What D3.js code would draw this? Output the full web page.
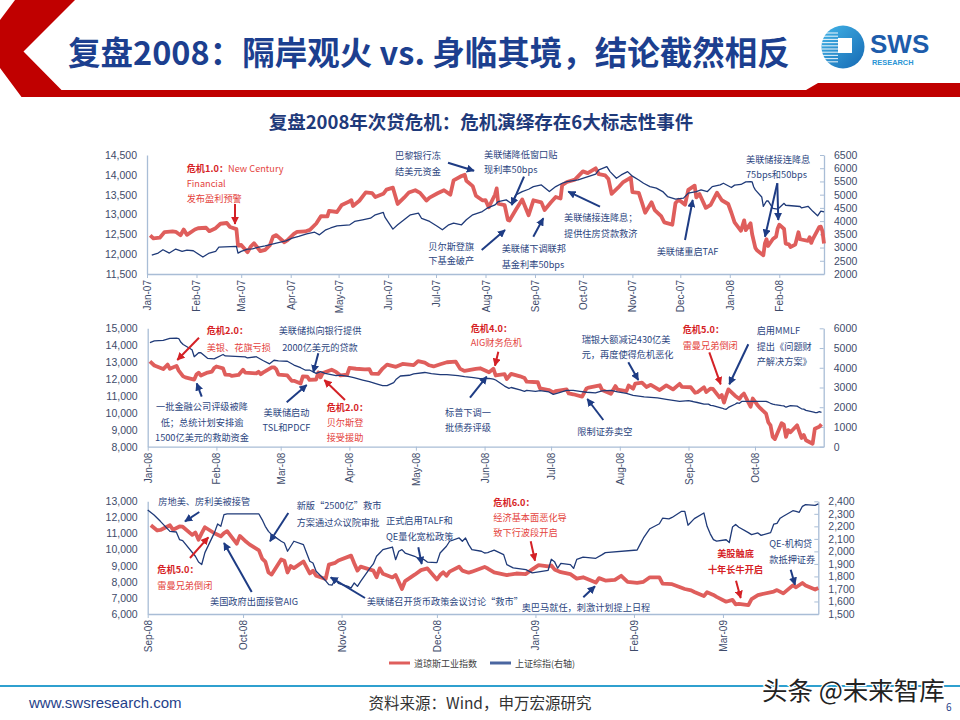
<!DOCTYPE html>
<html>
<head>
<meta charset="utf-8">
<script src="https://cdn.jsdelivr.net/npm/d3@7"></script>
<style>
  body { margin: 0; background: #fff; }
  svg { display: block; font-family: "Noto Sans CJK SC", "Noto Sans", sans-serif; }
</style>
</head>
<body>
<div id="chart"></div>
<script>
// ---- data ----
const dow07 = [["2007-01-03",12474],["2007-01-05",12398],["2007-01-09",12416],["2007-01-12",12556],["2007-01-17",12577],["2007-01-19",12565],["2007-01-22",12477],["2007-01-24",12621],["2007-01-26",12487],["2007-01-31",12622],["2007-02-02",12653],["2007-02-07",12666],["2007-02-09",12580],["2007-02-13",12654],["2007-02-16",12767],["2007-02-20",12786],["2007-02-22",12686],["2007-02-26",12632],["2007-02-27",12216],["2007-03-01",12234],["2007-03-05",12050],["2007-03-07",12192],["2007-03-09",12276],["2007-03-13",12075],["2007-03-16",12110],["2007-03-19",12226],["2007-03-21",12447],["2007-03-23",12481],["2007-03-28",12300],["2007-03-30",12354],["2007-04-03",12510],["2007-04-05",12560],["2007-04-10",12573],["2007-04-13",12612],["2007-04-17",12773],["2007-04-20",12961],["2007-04-24",12953],["2007-04-25",13089],["2007-04-30",13063],["2007-05-03",13241],["2007-05-07",13313],["2007-05-09",13362],["2007-05-10",13215],["2007-05-14",13347],["2007-05-18",13556],["2007-05-22",13539],["2007-05-24",13441],["2007-05-29",13521],["2007-05-31",13628],["2007-06-04",13676],["2007-06-07",13266],["2007-06-11",13424],["2007-06-14",13553],["2007-06-18",13612],["2007-06-21",13545],["2007-06-25",13352],["2007-06-27",13427],["2007-07-02",13535],["2007-07-06",13612],["2007-07-10",13501],["2007-07-12",13861],["2007-07-17",13971],["2007-07-19",14000],["2007-07-20",13851],["2007-07-24",13716],["2007-07-26",13473],["2007-07-30",13358],["2007-08-01",13362],["2007-08-03",13182],["2007-08-07",13504],["2007-08-08",13658],["2007-08-09",13271],["2007-08-13",13236],["2007-08-15",12862],["2007-08-16",12846],["2007-08-20",13121],["2007-08-24",13379],["2007-08-28",12983],["2007-08-31",13358],["2007-09-05",13306],["2007-09-07",13113],["2007-09-11",13309],["2007-09-14",13442],["2007-09-17",13403],["2007-09-18",13739],["2007-09-21",13820],["2007-09-26",13878],["2007-10-01",14087],["2007-10-04",14044],["2007-10-09",14165],["2007-10-11",14015],["2007-10-15",13985],["2007-10-17",13892],["2007-10-19",13522],["2007-10-23",13676],["2007-10-26",13807],["2007-10-31",13930],["2007-11-01",13567],["2007-11-05",13543],["2007-11-07",13300],["2007-11-09",13043],["2007-11-13",13307],["2007-11-15",13110],["2007-11-19",12958],["2007-11-21",12800],["2007-11-26",12743],["2007-11-28",13289],["2007-11-30",13372],["2007-12-04",13249],["2007-12-06",13620],["2007-12-10",13727],["2007-12-11",13432],["2007-12-13",13518],["2007-12-17",13167],["2007-12-20",13245],["2007-12-24",13550],["2007-12-27",13359],["2007-12-31",13265]];

const dow08 = [["2008-01-02",13044],["2008-01-04",12800],["2008-01-08",12589],["2008-01-10",12853],["2008-01-11",12606],["2008-01-14",12778],["2008-01-15",12501],["2008-01-17",12159],["2008-01-18",12099],["2008-01-22",11971],["2008-01-23",12270],["2008-01-24",12378],["2008-01-25",12207],["2008-01-28",12383],["2008-01-30",12442],["2008-01-31",12650],["2008-02-01",12743],["2008-02-04",12635],["2008-02-05",12265],["2008-02-07",12248],["2008-02-08",12182],["2008-02-11",12240],["2008-02-13",12552],["2008-02-14",12376],["2008-02-19",12337],["2008-02-20",12427],["2008-02-21",12284],["2008-02-22",12381],["2008-02-26",12684],["2008-02-27",12694],["2008-02-28",12582],["2008-02-29",12266],["2008-03-04",12213],["2008-03-06",11893],["2008-03-07",11894],["2008-03-10",11740],["2008-03-11",12156],["2008-03-13",12145],["2008-03-14",11951],["2008-03-17",11972],["2008-03-18",12392],["2008-03-19",12099],["2008-03-20",12361],["2008-03-24",12548],["2008-03-26",12422],["2008-03-28",12216],["2008-03-31",12263],["2008-04-01",12654],["2008-04-04",12609],["2008-04-08",12577],["2008-04-10",12581],["2008-04-11",12325],["2008-04-14",12302],["2008-04-16",12619],["2008-04-18",12849],["2008-04-22",12720],["2008-04-25",12891],["2008-04-30",12820],["2008-05-02",13058],["2008-05-05",12969],["2008-05-07",12814],["2008-05-09",12745],["2008-05-12",12876],["2008-05-15",12992],["2008-05-19",13028],["2008-05-21",12601],["2008-05-23",12479],["2008-05-28",12594],["2008-05-30",12638],["2008-06-03",12402],["2008-06-05",12604],["2008-06-06",12210],["2008-06-10",12289],["2008-06-11",11999],["2008-06-13",12307],["2008-06-17",12160],["2008-06-19",12063],["2008-06-20",11843],["2008-06-25",11811],["2008-06-26",11453],["2008-06-30",11350],["2008-07-02",11215],["2008-07-03",11288],["2008-07-08",11384],["2008-07-09",11147],["2008-07-11",11100],["2008-07-15",10962],["2008-07-17",11446],["2008-07-18",11496],["2008-07-23",11632],["2008-07-24",11349],["2008-07-28",11131],["2008-07-30",11583],["2008-07-31",11378],["2008-08-04",11284],["2008-08-05",11615],["2008-08-07",11432],["2008-08-08",11734],["2008-08-11",11782],["2008-08-13",11532],["2008-08-15",11659],["2008-08-19",11348],["2008-08-22",11628],["2008-08-25",11386],["2008-08-28",11715],["2008-08-29",11543],["2008-09-02",11516],["2008-09-04",11188],["2008-09-05",11220],["2008-09-08",11511],["2008-09-09",11231],["2008-09-11",11434],["2008-09-12",11421],["2008-09-15",10917],["2008-09-16",11059],["2008-09-17",10609],["2008-09-18",11020],["2008-09-19",11388],["2008-09-22",11016],["2008-09-24",10825],["2008-09-25",11023],["2008-09-26",11143],["2008-09-29",10365],["2008-09-30",10851],["2008-10-02",10482],["2008-10-03",10325],["2008-10-06",9955],["2008-10-07",9447],["2008-10-08",9258],["2008-10-09",8579],["2008-10-10",8451],["2008-10-13",9387],["2008-10-14",9310],["2008-10-15",8577],["2008-10-16",8979],["2008-10-17",8852],["2008-10-20",9265],["2008-10-22",8519],["2008-10-23",8691],["2008-10-24",8378],["2008-10-27",8175],["2008-10-28",9065],["2008-10-30",9180],["2008-10-31",9325],["2008-11-04",9625],["2008-11-05",9139],["2008-11-06",8695],["2008-11-07",8943],["2008-11-11",8693],["2008-11-12",8283],["2008-11-13",8835],["2008-11-14",8497],["2008-11-17",8273],["2008-11-18",8424],["2008-11-19",7997],["2008-11-20",7552],["2008-11-21",8046],["2008-11-24",8443],["2008-11-26",8727],["2008-11-28",8829],["2008-12-01",8149],["2008-12-02",8419],["2008-12-03",8591],["2008-12-04",8376],["2008-12-05",8635],["2008-12-08",8934],["2008-12-09",8691],["2008-12-11",8565],["2008-12-12",8629],["2008-12-16",8924],["2008-12-17",8824],["2008-12-19",8579],["2008-12-23",8419],["2008-12-26",8515],["2008-12-29",8483],["2008-12-31",8776]];

const dow09 = [["2009-01-02",9034],["2009-01-05",8952],["2009-01-06",9015],["2009-01-07",8769],["2009-01-09",8599],["2009-01-12",8474],["2009-01-14",8200],["2009-01-16",8281],["2009-01-20",7949],["2009-01-21",8228],["2009-01-23",8077],["2009-01-26",8117],["2009-01-28",8375],["2009-01-30",8001],["2009-02-02",7936],["2009-02-04",8000],["2009-02-06",8280],["2009-02-09",8270],["2009-02-10",7888],["2009-02-13",7850],["2009-02-17",7553],["2009-02-19",7466],["2009-02-20",7366],["2009-02-23",7115],["2009-02-24",7351],["2009-02-26",7183],["2009-02-27",7063],["2009-03-02",6763],["2009-03-04",6876],["2009-03-05",6594],["2009-03-06",6627],["2009-03-09",6547],["2009-03-10",6926],["2009-03-12",7170],["2009-03-13",7224],["2009-03-17",7395],["2009-03-18",7486],["2009-03-20",7279],["2009-03-23",7776],["2009-03-24",7660],["2009-03-26",7924],["2009-03-27",7776],["2009-03-30",7522],["2009-03-31",7609]];

const sh07 = [["2007-01-04",2715],["2007-01-08",2792],["2007-01-11",2918],["2007-01-15",2792],["2007-01-19",2943],["2007-01-23",2855],["2007-01-26",2900],["2007-01-30",2880],["2007-02-05",2641],["2007-02-07",2720],["2007-02-09",2792],["2007-02-13",2855],["2007-02-15",3018],["2007-02-26",3043],["2007-02-27",2792],["2007-03-01",2855],["2007-03-05",2943],["2007-03-08",2950],["2007-03-12",3018],["2007-03-16",3060],["2007-03-23",3169],["2007-03-29",3250],["2007-04-02",3358],["2007-04-06",3420],["2007-04-11",3521],["2007-04-16",3580],["2007-04-19",3480],["2007-04-23",3672],["2007-04-26",3740],["2007-04-30",3823],["2007-05-08",3861],["2007-05-11",3986],["2007-05-16",4049],["2007-05-21",4110],["2007-05-24",4238],["2007-05-29",4326],["2007-05-30",4150],["2007-06-04",3697],["2007-06-07",3860],["2007-06-11",4049],["2007-06-15",4238],["2007-06-20",4301],["2007-06-22",4100],["2007-06-27",3986],["2007-07-02",3798],["2007-07-05",3672],["2007-07-09",3860],["2007-07-12",3923],["2007-07-17",3860],["2007-07-20",4049],["2007-07-24",4238],["2007-07-30",4363],["2007-08-02",4489],["2007-08-07",4615],["2007-08-09",4740],["2007-08-14",4803],["2007-08-17",4677],["2007-08-20",4991],["2007-08-24",5117],["2007-08-28",5205],["2007-08-31",5306],["2007-09-05",5369],["2007-09-10",5117],["2007-09-14",5306],["2007-09-18",5432],["2007-09-21",5494],["2007-09-28",5557],["2007-10-09",5780],["2007-10-11",5934],["2007-10-16",6060],["2007-10-18",5872],["2007-10-22",5620],["2007-10-25",5746],["2007-10-29",5872],["2007-11-01",5700],["2007-11-05",5557],["2007-11-08",5432],["2007-11-12",5306],["2007-11-16",5250],["2007-11-20",5117],["2007-11-23",4929],["2007-11-28",4828],["2007-12-03",4870],["2007-12-06",5055],["2007-12-11",5117],["2007-12-14",5180],["2007-12-18",5117],["2007-12-21",5306],["2007-12-26",5369],["2007-12-28",5432]];

const sh08 = [["2008-01-02",5272],["2008-01-04",5361],["2008-01-08",5386],["2008-01-11",5485],["2008-01-14",5497],["2008-01-15",5481],["2008-01-16",5290],["2008-01-17",5180],["2008-01-21",4914],["2008-01-22",4559],["2008-01-24",4761],["2008-01-25",4762],["2008-01-28",4480],["2008-01-31",4450],["2008-02-04",4672],["2008-02-05",4599],["2008-02-14",4552],["2008-02-15",4497],["2008-02-19",4560],["2008-02-22",4370],["2008-02-25",4200],["2008-02-27",4380],["2008-02-29",4348],["2008-03-04",4330],["2008-03-07",4139],["2008-03-10",4003],["2008-03-12",3885],["2008-03-14",3885],["2008-03-17",3716],["2008-03-19",3801],["2008-03-21",3716],["2008-03-26",3598],["2008-03-28",3632],["2008-04-01",3547],["2008-04-03",3497],["2008-04-07",3378],["2008-04-10",3294],["2008-04-14",3159],["2008-04-16",3091],["2008-04-18",3094],["2008-04-21",3250],["2008-04-22",3400],["2008-04-24",3583],["2008-04-28",3620],["2008-04-30",3693],["2008-05-05",3761],["2008-05-08",3700],["2008-05-12",3650],["2008-05-15",3654],["2008-05-20",3598],["2008-05-23",3547],["2008-05-27",3497],["2008-05-30",3450],["2008-06-03",3463],["2008-06-05",3429],["2008-06-06",3380],["2008-06-10",3072],["2008-06-12",2957],["2008-06-13",3000],["2008-06-17",2874],["2008-06-19",2800],["2008-06-20",2857],["2008-06-24",2807],["2008-06-26",2840],["2008-06-30",2773],["2008-07-02",2655],["2008-07-04",2720],["2008-07-08",2857],["2008-07-11",2850],["2008-07-14",2807],["2008-07-17",2760],["2008-07-21",2723],["2008-07-24",2830],["2008-07-28",2857],["2008-07-31",2773],["2008-08-04",2700],["2008-08-07",2605],["2008-08-12",2521],["2008-08-18",2470],["2008-08-22",2403],["2008-08-28",2302],["2008-09-01",2330],["2008-09-03",2290],["2008-09-05",2240],["2008-09-08",2160],["2008-09-10",2155],["2008-09-11",2094],["2008-09-12",2086],["2008-09-16",1961],["2008-09-17",1915],["2008-09-18",1895],["2008-09-19",1990],["2008-09-22",2150],["2008-09-23",2219],["2008-09-24",2200],["2008-09-25",2294],["2008-09-26",2299],["2008-10-06",2299],["2008-10-07",2254],["2008-10-08",2200],["2008-10-09",2160],["2008-10-10",2134],["2008-10-13",2081],["2008-10-14",2067],["2008-10-15",2001],["2008-10-16",2041],["2008-10-17",2081],["2008-10-20",2054],["2008-10-21",1987],["2008-10-22",1921],["2008-10-23",1907],["2008-10-24",1841],["2008-10-27",1765],["2008-10-28",1734],["2008-10-29",1731],["2008-10-30",1774],["2008-10-31",1745],["2008-11-03",1721],["2008-11-04",1708],["2008-11-05",1748],["2008-11-06",1721],["2008-11-07",1760],["2008-11-10",1868],["2008-11-11",1900],["2008-11-12",1961],["2008-11-13",1987],["2008-11-14",2014],["2008-11-17",2035],["2008-11-18",1934],["2008-11-19",2001],["2008-11-20",2014],["2008-11-21",1987],["2008-11-24",1961],["2008-11-25",1947],["2008-11-27",1934],["2008-11-28",1915],["2008-12-01",1910],["2008-12-02",1987],["2008-12-04",2041],["2008-12-05",2081],["2008-12-08",2107],["2008-12-09",2081],["2008-12-10",2107],["2008-12-11",2054],["2008-12-12",2014],["2008-12-15",2001],["2008-12-16",1987],["2008-12-17",1990],["2008-12-18",2001],["2008-12-19",2010],["2008-12-22",1974],["2008-12-23",1894],["2008-12-25",1868],["2008-12-29",1854],["2008-12-31",1828]];

const sh09 = [["2009-01-05",1849],["2009-01-06",1937],["2009-01-07",1918],["2009-01-08",1866],["2009-01-09",1904],["2009-01-12",1895],["2009-01-13",1864],["2009-01-14",1936],["2009-01-16",1954],["2009-01-20",1945],["2009-01-22",1974],["2009-01-23",1990],["2009-02-02",2011],["2009-02-03",2060],["2009-02-04",2107],["2009-02-06",2181],["2009-02-09",2221],["2009-02-10",2265],["2009-02-12",2260],["2009-02-13",2271],["2009-02-16",2320],["2009-02-17",2319],["2009-02-18",2209],["2009-02-20",2262],["2009-02-23",2307],["2009-02-24",2200],["2009-02-25",2140],["2009-02-26",2094],["2009-02-27",2082],["2009-03-02",2093],["2009-03-03",2071],["2009-03-04",2194],["2009-03-05",2215],["2009-03-06",2193],["2009-03-09",2150],["2009-03-10",2134],["2009-03-12",2147],["2009-03-13",2128],["2009-03-16",2150],["2009-03-17",2218],["2009-03-18",2224],["2009-03-19",2265],["2009-03-20",2281],["2009-03-23",2325],["2009-03-24",2320],["2009-03-25",2312],["2009-03-26",2360],["2009-03-27",2374],["2009-03-30",2368],["2009-03-31",2380]];

const seriesNames = ["道琼斯工业指数", "上证综指(右轴)"];

// ---- setup ----
const RED = "#df5e5c", NAVY = "#1f3a78", AXIS = "#a9bdd6", TICK = "#3e4b6a";
const NOTE_B = "#2b4580", NOTE_R = "#e4433d", NOTE_RB = "#d61f26";

const svg = d3.select("#chart").append("svg").attr("width", 960).attr("height", 720);
const parse = d3.timeParse("%Y-%m-%d");
const toPts = arr => arr.map(([d, v]) => ({date: parse(d), v}));
const dow = toPts([...dow07, ...dow08, ...dow09]);
const sh = toPts([...sh07, ...sh08, ...sh09]);

const defs = svg.append("defs");
[["b", "#1e3c84"], ["r", "#d42126"]].forEach(([k, c]) => {
  defs.append("marker").attr("id", "ah-" + k)
    .attr("viewBox", "0 0 10 10").attr("refX", 9).attr("refY", 5)
    .attr("markerWidth", 8).attr("markerHeight", 8).attr("markerUnits", "userSpaceOnUse")
    .attr("orient", "auto")
    .append("path").attr("d", "M0,0 L10,5 L0,10 z").attr("fill", c);
});
const grad = defs.append("linearGradient").attr("id", "logoGrad").attr("x1", 0).attr("y1", 0).attr("x2", 1).attr("y2", 1);
grad.append("stop").attr("offset", "0%").attr("stop-color", "#43b5e8");
grad.append("stop").attr("offset", "100%").attr("stop-color", "#1669b3");

// ---- header ----
svg.append("polygon")
  .attr("points", [[15,0],[75,0],[23.5,51.5],[61.5,90],[806,90],[818,83],[960,83],[960,97],[21.5,97],[0,68],[0,20]].join(" "))
  .attr("fill", "#c00000");
svg.append("text").attr("x", 68).attr("y", 65)
  .attr("font-size", 32.5).attr("font-weight", 700).attr("fill", "#1c3f8f")
  .text("复盘2008：隔岸观火 vs. 身临其境，结论截然相反");

const logo = svg.append("g");
logo.append("circle").attr("cx", 843).attr("cy", 47).attr("r", 21.5).attr("fill", "url(#logoGrad)");
d3.range(33, 62, 3.2).forEach(y => {
  logo.append("line").attr("x1", 822).attr("x2", 838).attr("y1", y).attr("y2", y)
    .attr("stroke", "#fff").attr("stroke-width", 1.1).attr("opacity", 0.85);
});
logo.append("rect").attr("x", 838).attr("y", 38).attr("width", 14).attr("height", 15).attr("fill", "#fff");
logo.append("text").attr("x", 870).attr("y", 53).attr("font-family", "Liberation Sans, Arial, sans-serif")
  .attr("font-size", 26).attr("font-weight", 700).attr("fill", "#1d5cab").text("SWS");
logo.append("text").attr("x", 872).attr("y", 65).attr("font-family", "Liberation Sans, Arial, sans-serif")
  .attr("font-size", 7.4).attr("font-weight", 700).attr("fill", "#2a95d5").text("RESEARCH");

svg.append("text").attr("x", 481).attr("y", 121).attr("dominant-baseline", "central")
  .attr("text-anchor", "middle").attr("font-size", 18.5).attr("font-weight", 700).attr("fill", "#1f3a7a")
  .text("复盘2008年次贷危机：危机演绎存在6大标志性事件");

// ---- panels ----
const panels = [
  {from: "2007-01-01", to: "2008-02-29", x0: 147, x1: 824, top: 155, bottom: 274,
   left: [11500, 14500], leftStep: 500, right: [2000, 6500], rightStep: 500, rightFmt: "d"},
  {from: "2008-01-01", to: "2008-11-01", x0: 147.7, x1: 823.7, top: 328.3, bottom: 446.7,
   left: [8000, 15000], leftStep: 1000, right: [0, 6000], rightStep: 1000, rightFmt: "d"},
  {from: "2008-09-01", to: "2009-03-31", x0: 147.7, x1: 818.3, top: 501.3, bottom: 614,
   left: [6000, 13000], leftStep: 1000, right: [1500, 2400], rightStep: 100, rightFmt: ","}
];

function styleAxis(g) {
  g.select(".domain").attr("stroke", AXIS).attr("stroke-width", 1.3);
  g.selectAll(".tick line").attr("stroke", AXIS);
  g.selectAll(".tick text").attr("fill", TICK)
    .attr("font-family", "Liberation Sans, Arial, sans-serif").attr("font-size", 10.5);
}

panels.forEach(p => {
  const d0 = parse(p.from), d1 = parse(p.to);
  const x = d3.scaleTime().domain([d0, d1]).range([p.x0, p.x1]);
  const yL = d3.scaleLinear().domain(p.left).range([p.bottom, p.top]);
  const yR = d3.scaleLinear().domain(p.right).range([p.bottom, p.top]);
  const g = svg.append("g");

  g.append("g").attr("transform", `translate(${p.x0},0)`)
    .call(d3.axisLeft(yL).tickValues(d3.range(p.left[0], p.left[1] + 1, p.leftStep))
      .tickFormat(d3.format(",")).tickSize(0).tickPadding(10))
    .call(styleAxis);

  g.append("g").attr("transform", `translate(${p.x1},0)`)
    .call(d3.axisRight(yR).tickValues(d3.range(p.right[0], p.right[1] + 1, p.rightStep))
      .tickFormat(d3.format(p.rightFmt)).tickSizeInner(-4).tickSizeOuter(0).tickPadding(10))
    .call(styleAxis);

  const xa = g.append("g").attr("transform", `translate(0,${p.bottom})`)
    .call(d3.axisBottom(x).tickValues(d3.timeMonth.range(d0, d1))
      .tickFormat(d3.timeFormat("%b-%y")).tickSizeInner(4).tickSizeOuter(0))
    .call(styleAxis);
  xa.selectAll(".tick text").attr("transform", "rotate(-90)")
    .attr("text-anchor", "end").attr("x", -6).attr("y", 0).attr("dy", "0.35em").attr("font-size", 10);

  const inDom = d => d.date >= d0 && d.date <= d1;
  g.append("path").datum(dow.filter(inDom))
    .attr("fill", "none").attr("stroke", RED).attr("stroke-width", 3.8).attr("stroke-linejoin", "round")
    .attr("d", d3.line().x(d => x(d.date)).y(d => yL(d.v)));
  g.append("path").datum(sh.filter(inDom))
    .attr("fill", "none").attr("stroke", NAVY).attr("stroke-width", 1.3).attr("stroke-linejoin", "round")
    .attr("d", d3.line().x(d => x(d.date)).y(d => yR(d.v)));
});

// ---- annotations ----
function note(x, ys, lines, red, anchor) {
  lines.forEach((ln, i) => {
    const t = svg.append("text").attr("x", x).attr("y", ys[i]).attr("dominant-baseline", "central")
      .attr("font-size", 9.2).attr("text-anchor", anchor || "start").attr("fill", red ? NOTE_R : NOTE_B);
    (typeof ln === "string" ? [[ln, 0]] : ln).forEach(([s, b]) => {
      const ts = t.append("tspan").text(s);
      if (b) ts.attr("font-weight", 700).attr("fill", NOTE_RB);
    });
  });
}
function arrow(x1, y1, x2, y2, red) {
  svg.append("line").attr("x1", x1).attr("y1", y1).attr("x2", x2).attr("y2", y2)
    .attr("stroke", red ? "#d42126" : "#1e3c84").attr("stroke-width", 2)
    .attr("marker-end", `url(#ah-${red ? "r" : "b"})`);
}

// panel 1
note(186.7, [167.7, 182.7, 197.7], [[["危机1.0：", 1], ["New Century", 0]], "Financial", "发布盈利预警"], true);
arrow(235, 204, 235, 224, true);
note(395, [155, 170.7], ["巴黎银行冻", "结美元资金"]);
arrow(448, 162.7, 474, 170.7);
note(484, [154, 169.3], ["美联储降低窗口贴", "现利率50bps"]);
arrow(524, 176.7, 511.7, 205);
note(428.3, [246, 259.5], ["贝尔斯登旗", "下基金破产"]);
arrow(481.7, 250, 505, 230);
note(501.7, [248.3, 264], ["美联储下调联邦", "基金利率50bps"]);
arrow(533.3, 236.7, 543.3, 218.3);
note(564, [217.3, 232.7], ["美联储接连降息；", "提供住房贷款救济"]);
arrow(600, 206.7, 568.3, 191.7);
note(656.7, [250.7], ["美联储重启TAF"]);
arrow(685, 240, 692.7, 200);
note(746, [159.3, 174.3], ["美联储接连降息", "75bps和50bps"]);
arrow(777.3, 183.3, 765, 236.7);
arrow(777.3, 183.3, 778.3, 220);

// panel 2
note(206.7, [330, 347.3], [[["危机2.0：", 1]], "美银、花旗亏损"], true);
arrow(199, 337.7, 177.3, 360, true);
note(202, [405.7, 421.5, 437.3], ["一批金融公司评级被降", "低；总统计划安排逾", "1500亿美元的救助资金"], false, "middle");
arrow(201.7, 396.7, 196.7, 383.3);
note(320, [330, 347.3], ["美联储拟向银行提供", "2000亿美元的贷款"], false, "middle");
arrow(318.3, 353.3, 313.3, 372.3);
note(286.5, [412.3, 426.7], ["美联储启动", "TSL和PDCF"], false, "middle");
arrow(286.7, 402.3, 306.7, 385);
note(326.7, [406.7, 422.3, 437.3], [[["危机2.0：", 1]], "贝尔斯登", "接受援助"], true);
arrow(345, 400, 324.3, 380, true);
note(470.7, [327.7, 342.3], [[["危机4.0：", 1]], "AIG财务危机"], true);
arrow(498.3, 351.7, 495, 365.7, true);
note(445, [411.7, 426.7], ["标普下调一", "批债券评级"]);
arrow(470, 397.7, 486.7, 376.7);
note(581.7, [339, 354.3], ["瑞银大额减记430亿美", "元，再度使得危机恶化"]);
arrow(628.3, 362.3, 638.3, 380);
note(577.3, [431], ["限制证券卖空"]);
arrow(603.3, 420, 587.3, 399);
note(682.7, [329.3, 345], [[["危机5.0：", 1]], "雷曼兄弟倒闭"], true);
arrow(709.3, 352.3, 720.7, 384.3, true);
note(756.7, [330, 346, 361], ["启用MMLF", "提出《问题财", "产解决方案》"]);
arrow(748.3, 344.3, 729.3, 384.3);

// panel 3
note(158.3, [501.3], ["房地美、房利美被接管"]);
arrow(199.3, 512, 185, 521.3);
note(157.3, [569, 585.3], [[["危机5.0：", 1]], "雷曼兄弟倒闭"], true);
arrow(190, 558, 208.3, 537.3, true);
note(210, [600.7], ["美国政府出面接管AIG"]);
arrow(251.7, 592, 224, 543);
note(296.7, [504.7, 522], ["新版“2500亿”救市", "方案通过众议院审批"]);
arrow(288.3, 513, 270, 541.3);
note(386, [520.3, 536.3], ["正式启用TALF和", "QE量化宽松政策"]);
arrow(418.3, 547.3, 421.7, 564);
note(366.7, [601.3], ["美联储召开货币政策会议讨论“救市”"]);
arrow(365, 598, 330.7, 577.3);
note(493.3, [502, 517.3, 532.3], [[["危机6.0：", 1]], "经济基本面恶化导", "致下行波段开启"], true);
arrow(530.7, 541.3, 535, 560.7, true);
note(521.7, [607], ["奥巴马就任，刺激计划提上日程"]);
arrow(583.3, 597.3, 595, 586.3);
note(735.5, [553, 569], [[["美股触底", 1]], [["十年长牛开启", 1]]], true, "middle");
arrow(736, 580.7, 740.7, 598, true);
note(769.3, [543, 559], ["QE-机构贷", "款抵押证券"]);
arrow(790.7, 569.7, 795, 584.7);

// ---- legend ----
const legend = svg.append("g").attr("font-size", 9).attr("fill", "#404040");
[[RED, 389, seriesNames[0]], ["#4a66a0", 490, seriesNames[1]]].forEach(([c, lx, label]) => {
  legend.append("line").attr("x1", lx).attr("x2", lx + 21).attr("y1", 663).attr("y2", 663)
    .attr("stroke", c).attr("stroke-width", 3);
  legend.append("text").attr("x", lx + 25).attr("y", 663).attr("dominant-baseline", "central").text(label);
});

// ---- footer ----
svg.append("line").attr("x1", 0).attr("x2", 960).attr("y1", 686).attr("y2", 686)
  .attr("stroke", "#2fa0cf").attr("stroke-width", 2);
svg.append("text").attr("x", 29).attr("y", 702).attr("dominant-baseline", "central")
  .attr("font-family", "Liberation Sans, Arial, sans-serif").attr("font-size", 15).attr("fill", "#1f3f8a")
  .text("www.swsresearch.com");
svg.append("text").attr("x", 480).attr("y", 702).attr("dominant-baseline", "central").attr("text-anchor", "middle")
  .attr("font-size", 15.5).attr("fill", "#333").text("资料来源：Wind，申万宏源研究");
svg.append("text").attr("x", 946).attr("y", 706).attr("dominant-baseline", "central")
  .attr("font-size", 10).attr("fill", "#1f3f8a").text("6");
svg.append("text").attr("x", 762).attr("y", 688).attr("dominant-baseline", "central")
  .attr("font-size", 25.5).attr("fill", "#222").attr("stroke", "#fff").attr("stroke-width", 2.5)
  .attr("paint-order", "stroke").text("头条 @未来智库");
</script>
</body>
</html>
